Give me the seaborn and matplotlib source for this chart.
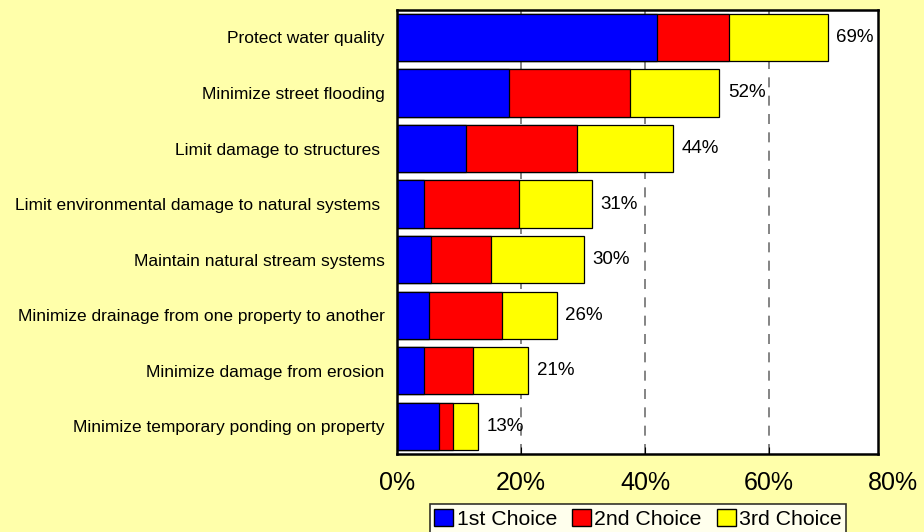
import numpy as np
import matplotlib
matplotlib.use('Agg')
import matplotlib.pyplot as plt
import seaborn as sns
from matplotlib.patches import Patch
from matplotlib.transforms import blended_transform_factory

categories = [
    'Protect water quality',
    'Minimize street flooding',
    'Limit damage to structures ',
    'Limit environmental damage to natural systems ',
    'Maintain natural stream systems',
    'Minimize drainage from one property to another',
    'Minimize damage from erosion',
    'Minimize temporary ponding on property',
]
first_choice = [41.9, 18.0, 11.1, 4.4, 5.5, 5.1, 4.4, 6.8]
second_choice = [11.7, 19.5, 17.9, 15.3, 9.6, 11.8, 7.9, 2.3]
third_choice = [15.9, 14.5, 15.5, 11.7, 15.1, 8.9, 8.9, 4.0]
total_labels = ['69%', '52%', '44%', '31%', '30%', '26%', '21%', '13%']
x_ticks = [0, 20, 40, 60, 80]

bg = '#FFFFAA'
plt.rcParams['font.family'] = ['Liberation Sans', 'DejaVu Sans']

fig = plt.figure(figsize=(9.24, 5.32), dpi=100, facecolor=bg)
ax = fig.add_axes([0.4297, 0.1466, 0.5206, 0.8352])
ax.set_facecolor('white')

s1 = np.array(first_choice)
s12 = s1 + np.array(second_choice)
s123 = s12 + np.array(third_choice)

# stacked bars: draw cumulative totals back to front
for vals, col in [(s123, '#FFFF00'), (s12, '#FF0000'), (s1, '#0000FF')]:
    sns.barplot(x=vals, y=categories, orient='h', color=col, saturation=1,
                edgecolor='black', linewidth=0.9, width=0.85, ax=ax, zorder=2)

ax.bar_label(ax.containers[0], labels=total_labels, padding=6, fontsize=13.5)

ax.set_xlim(0, 77.6)
ax.set_xticks(x_ticks[:-1])
ax.set_xticklabels([f'{t}%' for t in x_ticks[:-1]], fontsize=18)
# the last tick label sits past the plot frame, as in the original
trans = blended_transform_factory(ax.transData, ax.transAxes)
ax.text(x_ticks[-1], -0.0385, f'{x_ticks[-1]}%', transform=trans, ha='center', va='top',
        fontsize=18, clip_on=False)
ax.tick_params(axis='x', direction='in', length=5, pad=12, top=False)
ax.tick_params(axis='y', length=0, pad=9, labelsize=12.5)
ax.set_xlabel('')
ax.set_ylabel('')

ax.xaxis.grid(True, linestyle=(0, (6, 5)), color='#707070', linewidth=1.2)
ax.set_axisbelow(True)
for sp in ax.spines.values():
    sp.set_color('black')
    sp.set_linewidth(1.8)

handles = [Patch(facecolor='#0000FF', edgecolor='black', label='1st Choice'),
           Patch(facecolor='#FF0000', edgecolor='black', label='2nd Choice'),
           Patch(facecolor='#FFFF00', edgecolor='black', label='3rd Choice')]
leg = fig.legend(handles=handles, loc='lower center', bbox_to_anchor=(0.6905, -0.002), ncol=3,
                 fontsize=15.3, frameon=True, fancybox=False, edgecolor='black',
                 handlelength=0.9, handleheight=0.9, handletextpad=0.15,
                 columnspacing=0.7, borderpad=0.2, borderaxespad=0.0)
leg.get_frame().set_linewidth(1.2)
leg.get_frame().set_facecolor('white')

fig.savefig('out.png', dpi=100, facecolor=bg)
